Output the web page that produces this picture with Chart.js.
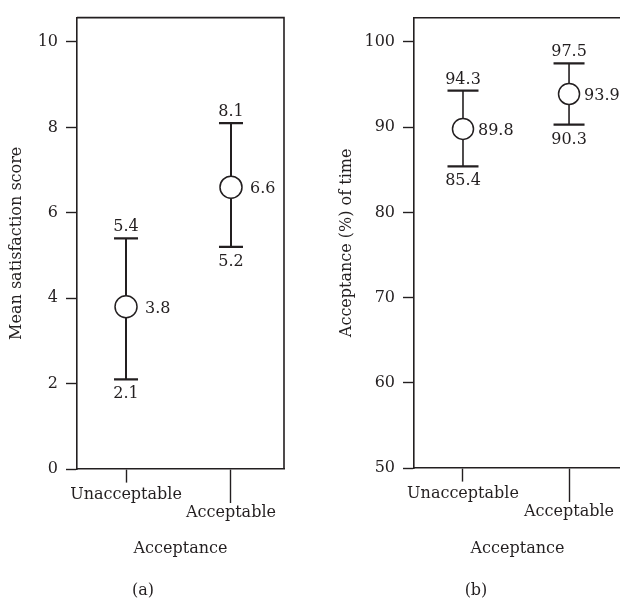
<!DOCTYPE html>
<html>
<head>
<meta charset="utf-8">
<script src="https://cdn.jsdelivr.net/npm/chart.js@4.4.1/dist/chart.umd.min.js"></script>
<style>
  html, body { margin: 0; padding: 0; background: #fff; overflow: hidden; }
  #page { position: relative; width: 620px; height: 602px; overflow: hidden; }
  .panel { position: absolute; top: 0; }
  .caption { position: absolute; top: 580px; width: 60px; text-align: center; font: 16px "DejaVu Serif", serif; color: #231f20; }
</style>
</head>
<body>
<div id="page">
  <canvas id="chartA" class="panel" width="310" height="602" style="left:0"></canvas>
  <canvas id="chartB" class="panel" width="340" height="602" style="left:325px"></canvas>
  <div class="caption" style="left:113px">(a)</div>
  <div class="caption" style="left:446px">(b)</div>
</div>
<script>
const categories = ["Unacceptable", "Acceptable"];

// (a) satisfaction score: mean with interval bounds
const satisfactionMean = [3.8, 6.6];
const satisfactionLow = [2.1, 5.2];
const satisfactionHigh = [5.4, 8.1];
const satisfactionTicks = [0, 2, 4, 6, 8, 10];

// (b) acceptance % of time
const acceptanceMean = [89.8, 93.9];
const acceptanceLow = [85.4, 90.3];
const acceptanceHigh = [94.3, 97.5];
const acceptanceTicks = [50, 60, 70, 80, 90, 100];

const ink = "#231f20";
const serif = {family: "'DejaVu Serif', 'Liberation Serif', serif", size: 16};

// top and right edges of the plot box (left/bottom come from the axis borders)
const frame = {
    id: "frame",
    afterDraw(chart){
        let {ctx, chartArea: a} = chart;
        ctx.save();
        ctx.strokeStyle = ink;
        ctx.lineWidth = 1.6;
        ctx.beginPath();
        ctx.moveTo(a.left, a.top);
        ctx.lineTo(a.right, a.top);
        ctx.lineTo(a.right, a.bottom);
        ctx.stroke();
        ctx.restore();
    }
};

// numbers above/below the caps and beside the mean circles
const valueLabels = {
    id: "valueLabels",
    afterDatasetsDraw(chart, args, opts){
        let {ctx, scales: {x, y}} = chart;
        ctx.save();
        ctx.font = `${serif.size}px ${serif.family}`;
        ctx.fillStyle = ink;
        ctx.textBaseline = "alphabetic";
        opts.mean.forEach((m, i)=>{
            let px = x.getPixelForValue(i+1);
            ctx.textAlign = "center";
            ctx.fillText(opts.high[i].toFixed(1), px, y.getPixelForValue(opts.high[i]) - 7);
            ctx.fillText(opts.low[i].toFixed(1), px, y.getPixelForValue(opts.low[i]) + 19);
            ctx.textAlign = "left";
            ctx.fillText(m.toFixed(1), px + opts.gap, y.getPixelForValue(m) + 6);
        });
        ctx.restore();
    }
};

function errorChart(canvas, p){
    let xs = categories.map((c, i)=>i+1);
    return new Chart(canvas, {
        type: "scatter",
        data: {
            datasets: [
                {
                    // means, drawn on top so the circle hides the bar
                    data: xs.map((x, i)=>({x: x, y: p.mean[i]})),
                    pointStyle: "circle",
                    pointRadius: p.circle,
                    pointBackgroundColor: "#fff",
                    pointBorderColor: ink,
                    pointBorderWidth: 1.5,
                },
                {
                    // caps
                    data: xs.flatMap((x, i)=>[{x: x, y: p.high[i]}, {x: x, y: p.low[i]}]),
                    pointStyle: "line",
                    pointRadius: p.cap,
                    pointBorderColor: ink,
                    pointBorderWidth: 2.2,
                },
                {
                    // vertical bars
                    data: xs.flatMap((x, i)=>[{x: x, y: p.low[i]}, {x: x, y: p.high[i]}, {x: x+0.5, y: null}]),
                    showLine: true,
                    spanGaps: false,
                    borderColor: ink,
                    borderWidth: p.bar,
                    pointRadius: 0,
                },
            ],
        },
        options: {
            responsive: false,
            animation: false,
            events: [],
            layout: {padding: {left: 0, top: p.top, right: p.right, bottom: 0}},
            plugins: {
                legend: {display: false},
                tooltip: {enabled: false},
                valueLabels: {mean: p.mean, low: p.low, high: p.high, gap: p.gap},
            },
            scales: {
                x: {
                    type: "linear",
                    min: p.xMin,
                    max: p.xMax,
                    afterBuildTicks: (s)=>{ s.ticks = xs.map((v)=>({value: v})); },
                    afterFit: (s)=>{ s.height = 602 - p.bottom; },
                    border: {color: ink, width: 1.6},
                    grid: {
                        drawOnChartArea: false,
                        tickLength: 34,
                        tickColor: ink,
                        tickWidth: 1.4,
                        // first label sits on the upper row, so its tick is short
                        tickBorderDash: (c)=>(c.index % 2 === 0 ? [13, 60] : []),
                    },
                    ticks: {
                        color: ink,
                        font: {...serif, lineHeight: 1.125},
                        padding: -17,
                        autoSkip: false,
                        maxRotation: 0,
                        callback: (v, i)=>(i % 2 ? ["", categories[i]] : categories[i]),
                    },
                    title: {display: true, text: "Acceptance", color: ink, font: serif, padding: {top: 0, bottom: 44}},
                },
                y: {
                    min: p.yMin,
                    max: p.yMax,
                    afterBuildTicks: (s)=>{ s.ticks = p.ticks.map((v)=>({value: v})); },
                    afterFit: (s)=>{ s.width = p.axisWidth; },
                    border: {color: ink, width: 1.6},
                    grid: {drawOnChartArea: false, tickLength: 11, tickColor: ink, tickWidth: 1.4},
                    ticks: {color: ink, font: serif, padding: 8},
                    title: {display: true, text: p.yTitle, color: ink, font: serif, padding: {top: p.titlePad, bottom: 0}},
                },
            },
        },
        plugins: [frame, valueLabels],
    });
}

errorChart(document.getElementById("chartA"), {
    mean: satisfactionMean, low: satisfactionLow, high: satisfactionHigh, ticks: satisfactionTicks,
    yMin: 0, yMax: 10.57, xMin: 0.533, xMax: 2.505,
    yTitle: "Mean satisfaction score",
    axisWidth: 77, titlePad: 7, top: 7, right: 26, bottom: 469,
    circle: 11, cap: 12, bar: 2, gap: 19,
});

// panel (b) runs off the right edge of the page, so its canvas is wider than the space left
errorChart(document.getElementById("chartB"), {
    mean: acceptanceMean, low: acceptanceLow, high: acceptanceHigh, ticks: acceptanceTicks,
    yMin: 50, yMax: 102.85, xMin: 0.538, xMax: 2.49,
    yTitle: "Acceptance (%) of time",
    axisWidth: 89, titlePad: 12, top: 5, right: 44, bottom: 468,
    circle: 10.5, cap: 15.5, bar: 1.6, gap: 15,
});
</script>
</body>
</html>
